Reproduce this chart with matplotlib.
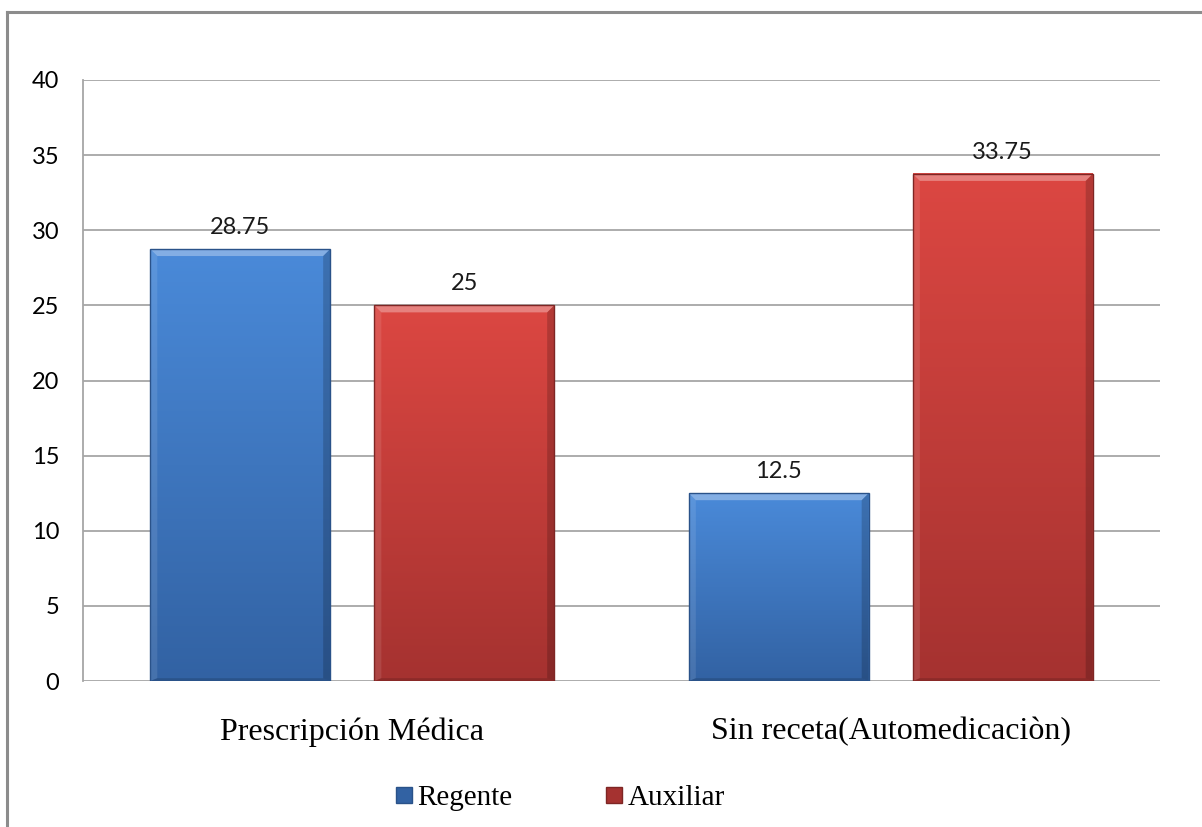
import matplotlib.pyplot as plt
import numpy as np
from matplotlib.lines import Line2D
from matplotlib.patches import Polygon
from matplotlib.colors import LinearSegmentedColormap

categories = ['Prescripción Médica', 'Sin receta(Automedicaciòn)']
series = ['Regente', 'Auxiliar']
regente = [28.75, 12.5]
auxiliar = [25, 33.75]
value_labels = [['28.75', '12.5'], ['25', '33.75']]
yticks = [0, 5, 10, 15, 20, 25, 30, 35, 40]

# top / bottom colours of the gradient, edge colour
styles = {
    'Regente': ('#4a8ad9', '#3262a3', '#2a5289'),
    'Auxiliar': ('#dc4742', '#a53230', '#7e2624'),
}

fig = plt.figure(figsize=(12.02, 8.27), dpi=100)
ax = fig.add_axes([83/1202, 1-681/827, (1160-83)/1202, (681-80)/827])

# outer chart border (top and left only visible)
fig.add_artist(Line2D([7/1202, 1], [1-12/827, 1-12/827], color='#8c8c8c', lw=2.2))
fig.add_artist(Line2D([7/1202, 7/1202], [0, 1-12/827], color='#8c8c8c', lw=2.2))

x = np.arange(len(categories))
width = 0.334
offset = 0.208

ax.set_xlim(-0.5, 1.5)
ax.set_ylim(0, 40)

# px per data unit, for the bevel
pxx = (1160-83) / 2.0
pxy = (681-80) / 40.0
bx = 7 / pxx
by = 7 / pxy

for k, (name, vals) in enumerate([('Regente', regente), ('Auxiliar', auxiliar)]):
    top, bot, edge = styles[name]
    cmap = LinearSegmentedColormap.from_list(name, [bot, top])
    for i, v in enumerate(vals):
        xc = x[i] + (offset if k else -offset)
        x0, x1 = xc - width/2, xc + width/2
        grad = np.linspace(0, 1, 256).reshape(-1, 1)
        ax.imshow(grad, cmap=cmap, origin='lower', aspect='auto',
                  extent=[x0, x1, 0, v], zorder=3, interpolation='bicubic')
        # bevel faces
        ax.add_patch(Polygon([[x0, v], [x1, v], [x1-bx, v-by], [x0+bx, v-by]],
                             closed=True, facecolor='white', alpha=0.32, lw=0, zorder=4))
        ax.add_patch(Polygon([[x0, 0], [x0, v], [x0+bx, v-by], [x0+bx, by*0.4]],
                             closed=True, facecolor='white', alpha=0.10, lw=0, zorder=4))
        ax.add_patch(Polygon([[x1, 0], [x1, v], [x1-bx, v-by], [x1-bx, by*0.4]],
                             closed=True, facecolor='black', alpha=0.18, lw=0, zorder=4))
        ax.add_patch(Polygon([[x0, 0], [x1, 0], [x1-bx, by*0.4], [x0+bx, by*0.4]],
                             closed=True, facecolor='black', alpha=0.15, lw=0, zorder=4))
        ax.add_patch(plt.Rectangle((x0, 0), width, v, fill=False, edgecolor=edge,
                                   lw=1.0, zorder=5))
        ax.annotate(value_labels[k][i], (xc, v), xytext=(0, 8), textcoords='offset points',
                    ha='center', va='bottom', fontsize=17, family='Lato', color='#1a1a1a')

ax.set_xlim(-0.5, 1.5)
ax.set_ylim(0, 40)
ax.set_yticks(yticks)
ax.set_yticklabels([str(t) for t in yticks], family='Lato', fontsize=17)
ax.set_xticks(x)
ax.set_xticklabels(categories, family='Liberation Serif', fontsize=23)
ax.tick_params(axis='y', length=0, pad=17)
ax.tick_params(axis='x', length=0, pad=26)
ax.yaxis.grid(True, color='#a6a6a6', lw=1.3, zorder=0)
ax.set_axisbelow(True)
for s in ['top', 'right', 'bottom']:
    ax.spines[s].set_visible(False)
ax.spines['left'].set_color('#a6a6a6')
ax.spines['left'].set_linewidth(1.3)

handles = [Line2D([], [], marker='s', ls='', markersize=11, markerfacecolor=styles[s][1],
                  markeredgecolor=styles[s][2]) for s in series]
fig.legend(handles, series, loc='center', bbox_to_anchor=(560/1202, 1-798/827), ncol=2,
           frameon=False, prop={'family': 'Liberation Serif', 'size': 21},
           handletextpad=0.15, columnspacing=3.2, handlelength=0.6)

fig.savefig('out.png', dpi=100)
